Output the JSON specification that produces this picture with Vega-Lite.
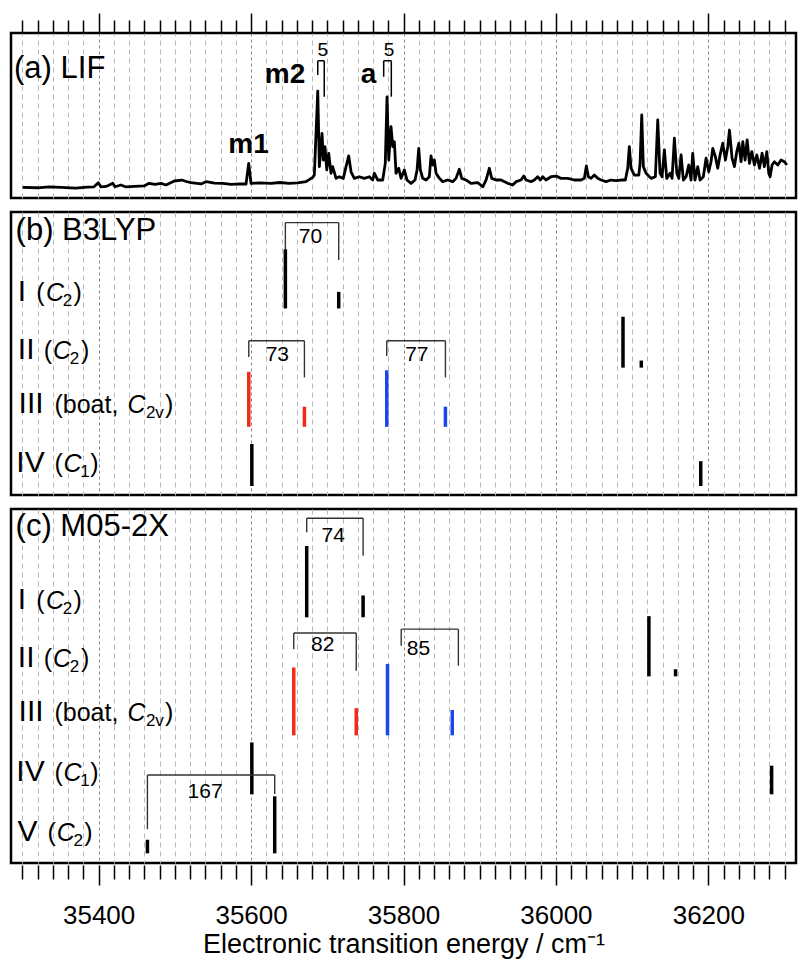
{
  "$schema": "https://vega.github.io/schema/vega-lite/v6.json",
  "padding": {"left": 9, "top": 11, "right": 0, "bottom": 0},
  "background": "white",
  "spacing": 10,
  "config": {
    "font": "Liberation Sans",
    "view": {"stroke": "black", "strokeWidth": 2.5},
    "axis": {"domain": false, "ticks": false, "labels": false, "grid": false, "tickColor": "black", "tickWidth": 1.5}
  },
  "datasets": {
    "lif": [
      {"wn": 35300.4, "s": 0.065}, {"wn": 35320, "s": 0.062}, {"wn": 35335, "s": 0.068}, {"wn": 35350.6, "s": 0.065}, {"wn": 35370, "s": 0.06}, {"wn": 35385, "s": 0.066}, {"wn": 35393.9, "s": 0.068},
      {"wn": 35399.6, "s": 0.093}, {"wn": 35403.1, "s": 0.067}, {"wn": 35410, "s": 0.07}, {"wn": 35418.5, "s": 0.089}, {"wn": 35421.5, "s": 0.068},
      {"wn": 35429.3, "s": 0.079}, {"wn": 35435.9, "s": 0.067}, {"wn": 35447, "s": 0.07}, {"wn": 35459.5, "s": 0.073}, {"wn": 35466.1, "s": 0.089},
      {"wn": 35474, "s": 0.083}, {"wn": 35481.8, "s": 0.089}, {"wn": 35488.4, "s": 0.079}, {"wn": 35499.3, "s": 0.103}, {"wn": 35509.0, "s": 0.109},
      {"wn": 35515, "s": 0.1}, {"wn": 35521.2, "s": 0.093}, {"wn": 35534.3, "s": 0.085}, {"wn": 35540.9, "s": 0.099}, {"wn": 35552, "s": 0.09},
      {"wn": 35562.8, "s": 0.089}, {"wn": 35574, "s": 0.082}, {"wn": 35584.6, "s": 0.085}, {"wn": 35593.4, "s": 0.085}, {"wn": 35596.9, "s": 0.21},
      {"wn": 35599.9, "s": 0.089}, {"wn": 35612, "s": 0.092}, {"wn": 35626.2, "s": 0.089}, {"wn": 35638, "s": 0.094}, {"wn": 35649.8, "s": 0.089},
      {"wn": 35661, "s": 0.092}, {"wn": 35672.1, "s": 0.099}, {"wn": 35680.9, "s": 0.125}, {"wn": 35683.0, "s": 0.139}, {"wn": 35687.5, "s": 0.648},
      {"wn": 35689.6, "s": 0.19}, {"wn": 35693.1, "s": 0.392}, {"wn": 35694.8, "s": 0.23}, {"wn": 35697.0, "s": 0.311}, {"wn": 35699.3, "s": 0.17},
      {"wn": 35701.9, "s": 0.271}, {"wn": 35704.9, "s": 0.15}, {"wn": 35707.1, "s": 0.19}, {"wn": 35711.5, "s": 0.119}, {"wn": 35715.8, "s": 0.129},
      {"wn": 35721.0, "s": 0.119}, {"wn": 35724.6, "s": 0.19}, {"wn": 35728.1, "s": 0.255}, {"wn": 35731.2, "s": 0.159}, {"wn": 35735.5, "s": 0.119},
      {"wn": 35742.0, "s": 0.129}, {"wn": 35748.6, "s": 0.119}, {"wn": 35755.2, "s": 0.129}, {"wn": 35759.6, "s": 0.109}, {"wn": 35761.7, "s": 0.15},
      {"wn": 35766.2, "s": 0.109}, {"wn": 35772.7, "s": 0.109}, {"wn": 35776.1, "s": 0.21}, {"wn": 35778.4, "s": 0.612}, {"wn": 35780.6, "s": 0.23},
      {"wn": 35783.6, "s": 0.432}, {"wn": 35785.9, "s": 0.311}, {"wn": 35788.0, "s": 0.341}, {"wn": 35790.2, "s": 0.15}, {"wn": 35793.7, "s": 0.18},
      {"wn": 35796.8, "s": 0.119}, {"wn": 35801.1, "s": 0.17}, {"wn": 35804.6, "s": 0.109}, {"wn": 35809.9, "s": 0.089}, {"wn": 35815.1, "s": 0.109},
      {"wn": 35817.8, "s": 0.17}, {"wn": 35820.0, "s": 0.301}, {"wn": 35822.1, "s": 0.17}, {"wn": 35825.2, "s": 0.119}, {"wn": 35829.6, "s": 0.109},
      {"wn": 35833.9, "s": 0.129}, {"wn": 35836.1, "s": 0.255}, {"wn": 35838.4, "s": 0.2}, {"wn": 35840.5, "s": 0.23}, {"wn": 35842.7, "s": 0.15},
      {"wn": 35847.1, "s": 0.119}, {"wn": 35851.5, "s": 0.099}, {"wn": 35858.0, "s": 0.109}, {"wn": 35864.6, "s": 0.099}, {"wn": 35868.9, "s": 0.119},
      {"wn": 35873.3, "s": 0.174}, {"wn": 35876.4, "s": 0.119}, {"wn": 35882.1, "s": 0.109}, {"wn": 35888.6, "s": 0.089}, {"wn": 35897.4, "s": 0.093},
      {"wn": 35904.0, "s": 0.068}, {"wn": 35908.3, "s": 0.109}, {"wn": 35912.6, "s": 0.18}, {"wn": 35915.8, "s": 0.119}, {"wn": 35921.4, "s": 0.109},
      {"wn": 35928.0, "s": 0.109}, {"wn": 35936.8, "s": 0.089}, {"wn": 35943.3, "s": 0.079}, {"wn": 35947.7, "s": 0.099}, {"wn": 35954.2, "s": 0.109},
      {"wn": 35957.8, "s": 0.133}, {"wn": 35960.8, "s": 0.109}, {"wn": 35967.3, "s": 0.099}, {"wn": 35971.7, "s": 0.109}, {"wn": 35976.1, "s": 0.129},
      {"wn": 35979.6, "s": 0.109}, {"wn": 35982.7, "s": 0.129}, {"wn": 35987.0, "s": 0.109}, {"wn": 35993.6, "s": 0.129}, {"wn": 36000.2, "s": 0.133},
      {"wn": 36006.7, "s": 0.119}, {"wn": 36015.5, "s": 0.119}, {"wn": 36024.2, "s": 0.109}, {"wn": 36033.0, "s": 0.109}, {"wn": 36037.3, "s": 0.119},
      {"wn": 36039.9, "s": 0.194}, {"wn": 36042.6, "s": 0.129}, {"wn": 36046.1, "s": 0.119}, {"wn": 36050.4, "s": 0.139}, {"wn": 36054.9, "s": 0.119},
      {"wn": 36059.2, "s": 0.109}, {"wn": 36065.8, "s": 0.099}, {"wn": 36072.3, "s": 0.109}, {"wn": 36078.9, "s": 0.105}, {"wn": 36085.4, "s": 0.109},
      {"wn": 36091.1, "s": 0.109}, {"wn": 36094.2, "s": 0.18}, {"wn": 36096.3, "s": 0.311}, {"wn": 36098.6, "s": 0.18}, {"wn": 36102.9, "s": 0.139},
      {"wn": 36108.7, "s": 0.139}, {"wn": 36110.4, "s": 0.21}, {"wn": 36112.6, "s": 0.503}, {"wn": 36114.7, "s": 0.19}, {"wn": 36118.3, "s": 0.15},
      {"wn": 36124.8, "s": 0.119}, {"wn": 36130.5, "s": 0.129}, {"wn": 36133.6, "s": 0.473}, {"wn": 36136.6, "s": 0.15}, {"wn": 36139.3, "s": 0.129},
      {"wn": 36142.3, "s": 0.291}, {"wn": 36145.4, "s": 0.119}, {"wn": 36149.8, "s": 0.15}, {"wn": 36152.4, "s": 0.119}, {"wn": 36155.4, "s": 0.362},
      {"wn": 36158.6, "s": 0.15}, {"wn": 36161.2, "s": 0.119}, {"wn": 36164.2, "s": 0.261}, {"wn": 36167.2, "s": 0.109}, {"wn": 36170.8, "s": 0.129},
      {"wn": 36174.3, "s": 0.2}, {"wn": 36177.3, "s": 0.109}, {"wn": 36179.5, "s": 0.271}, {"wn": 36182.5, "s": 0.109}, {"wn": 36186.1, "s": 0.19},
      {"wn": 36189.1, "s": 0.109}, {"wn": 36193.4, "s": 0.129}, {"wn": 36197.0, "s": 0.241}, {"wn": 36200.5, "s": 0.159}, {"wn": 36203.5, "s": 0.22},
      {"wn": 36205.8, "s": 0.301}, {"wn": 36209.2, "s": 0.25}, {"wn": 36212.3, "s": 0.18}, {"wn": 36215.4, "s": 0.261}, {"wn": 36218.9, "s": 0.332},
      {"wn": 36222.4, "s": 0.23}, {"wn": 36225.5, "s": 0.311}, {"wn": 36227.7, "s": 0.412}, {"wn": 36231.1, "s": 0.241}, {"wn": 36234.2, "s": 0.19},
      {"wn": 36237.3, "s": 0.281}, {"wn": 36240.0, "s": 0.332}, {"wn": 36243.0, "s": 0.22}, {"wn": 36245.2, "s": 0.341}, {"wn": 36248.2, "s": 0.23},
      {"wn": 36250.9, "s": 0.352}, {"wn": 36253.9, "s": 0.21}, {"wn": 36257.0, "s": 0.281}, {"wn": 36260.5, "s": 0.2}, {"wn": 36263.6, "s": 0.261},
      {"wn": 36267.1, "s": 0.18}, {"wn": 36270.5, "s": 0.271}, {"wn": 36273.5, "s": 0.19}, {"wn": 36276.7, "s": 0.281}, {"wn": 36279.3, "s": 0.15},
      {"wn": 36281.0, "s": 0.129}, {"wn": 36283.6, "s": 0.2}, {"wn": 36286.6, "s": 0.22}, {"wn": 36291.1, "s": 0.2}, {"wn": 36295.4, "s": 0.23},
      {"wn": 36299.8, "s": 0.22}, {"wn": 36303.0, "s": 0.2}
    ],
    "peaksA": [
      {"label": "m1", "x": 35596.6, "y": 0.271},
      {"label": "m2", "x": 35644.5, "y": 0.695},
      {"label": "a", "x": 35754, "y": 0.697}
    ],
    "headA": [{"t": "(a) LIF", "x": 35289, "y": 0.725}],
    "bracketsA": [
      {"x1": 35687.5, "x2": 35696, "top": 0.832, "left": 0.745, "right": 0.614, "label": "5", "lx": 35694, "ly": 0.897},
      {"x1": 35774, "x2": 35784, "top": 0.832, "left": 0.735, "right": 0.614, "label": "5", "lx": 35781, "ly": 0.897}
    ],
    "sticksB": [
      {"wn": 35645, "base": 3, "tip": 4.0, "set": "k"},
      {"wn": 35715, "base": 3, "tip": 3.28, "set": "k"},
      {"wn": 36088, "base": 2, "tip": 2.86, "set": "k"},
      {"wn": 36112, "base": 2, "tip": 2.12, "set": "k"},
      {"wn": 35597, "base": 1, "tip": 1.93, "set": "r"},
      {"wn": 35670, "base": 1, "tip": 1.34, "set": "r"},
      {"wn": 35778, "base": 1, "tip": 1.955, "set": "b"},
      {"wn": 35855, "base": 1, "tip": 1.34, "set": "b"},
      {"wn": 35601, "base": 0, "tip": 0.71, "set": "k"},
      {"wn": 36190, "base": 0, "tip": 0.42, "set": "k"}
    ],
    "bracketsB": [
      {"x1": 35645, "x2": 35715, "top": 4.45, "left": 4.0, "right": 3.82, "label": "70", "lx": 35678, "ly": 4.21},
      {"x1": 35597, "x2": 35670, "top": 2.454, "left": 2.18, "right": 1.835, "label": "73", "lx": 35634.5, "ly": 2.21},
      {"x1": 35778, "x2": 35855, "top": 2.454, "left": 2.196, "right": 1.835, "label": "77", "lx": 35817.5, "ly": 2.21}
    ],
    "piecesB": [
      {"k": "head", "t": "(b) B3LYP", "x": 35291, "y": 4.155},
      {"k": "num", "t": "I", "x": 35294, "y": 3.125},
      {"k": "txt", "t": "(", "x": 35318, "y": 3.125},
      {"k": "ital", "t": "C", "x": 35331, "y": 3.125},
      {"k": "sub", "t": "2", "x": 35353, "y": 3.125},
      {"k": "txt", "t": ")", "x": 35367, "y": 3.125},
      {"k": "num", "t": "II", "x": 35294, "y": 2.14},
      {"k": "txt", "t": "(", "x": 35328, "y": 2.14},
      {"k": "ital", "t": "C", "x": 35340, "y": 2.14},
      {"k": "sub", "t": "2", "x": 35362, "y": 2.14},
      {"k": "txt", "t": ")", "x": 35377, "y": 2.14},
      {"k": "num", "t": "III", "x": 35295, "y": 1.238},
      {"k": "txt", "t": "(boat,", "x": 35342, "y": 1.238},
      {"k": "ital", "t": "C", "x": 35438, "y": 1.238},
      {"k": "sub", "t": "2v", "x": 35462, "y": 1.238},
      {"k": "txt", "t": ")", "x": 35487, "y": 1.238},
      {"k": "num", "t": "IV", "x": 35292, "y": 0.242},
      {"k": "txt", "t": "(", "x": 35342, "y": 0.242},
      {"k": "ital", "t": "C", "x": 35354, "y": 0.242},
      {"k": "sub", "t": "1", "x": 35376, "y": 0.242},
      {"k": "txt", "t": ")", "x": 35389, "y": 0.242}
    ],
    "sticksC": [
      {"wn": 35673, "base": 4, "tip": 5.21, "set": "k"},
      {"wn": 35747, "base": 4, "tip": 4.37, "set": "k"},
      {"wn": 36122, "base": 3, "tip": 4.02, "set": "k"},
      {"wn": 36157, "base": 3, "tip": 3.12, "set": "k"},
      {"wn": 35656, "base": 2, "tip": 3.15, "set": "r"},
      {"wn": 35738, "base": 2, "tip": 2.46, "set": "r"},
      {"wn": 35779, "base": 2, "tip": 3.21, "set": "b"},
      {"wn": 35864, "base": 2, "tip": 2.43, "set": "b"},
      {"wn": 35601, "base": 1, "tip": 1.88, "set": "k"},
      {"wn": 36283, "base": 1, "tip": 1.485, "set": "k"},
      {"wn": 35464, "base": 0, "tip": 0.23, "set": "k"},
      {"wn": 35631, "base": 0, "tip": 0.966, "set": "k"}
    ],
    "bracketsC": [
      {"x1": 35673, "x2": 35747, "top": 5.678, "left": 5.44, "right": 5.044, "label": "74", "lx": 35707.7, "ly": 5.38},
      {"x1": 35656, "x2": 35738, "top": 3.734, "left": 3.46, "right": 3.095, "label": "82", "lx": 35694, "ly": 3.53},
      {"x1": 35797, "x2": 35872, "top": 3.8, "left": 3.52, "right": 3.18, "label": "85", "lx": 35819.6, "ly": 3.47},
      {"x1": 35464, "x2": 35631, "top": 1.327, "left": 0.41, "right": 1.005, "label": "167", "lx": 35539.6, "ly": 1.044}
    ],
    "piecesC": [
      {"k": "head", "t": "(c) M05-2X", "x": 35291, "y": 5.38},
      {"k": "num", "t": "I", "x": 35294, "y": 4.14},
      {"k": "txt", "t": "(", "x": 35318, "y": 4.14},
      {"k": "ital", "t": "C", "x": 35331, "y": 4.14},
      {"k": "sub", "t": "2", "x": 35353, "y": 4.14},
      {"k": "txt", "t": ")", "x": 35367, "y": 4.14},
      {"k": "num", "t": "II", "x": 35294, "y": 3.15},
      {"k": "txt", "t": "(", "x": 35328, "y": 3.15},
      {"k": "ital", "t": "C", "x": 35340, "y": 3.15},
      {"k": "sub", "t": "2", "x": 35362, "y": 3.15},
      {"k": "txt", "t": ")", "x": 35377, "y": 3.15},
      {"k": "num", "t": "III", "x": 35295, "y": 2.25},
      {"k": "txt", "t": "(boat,", "x": 35342, "y": 2.25},
      {"k": "ital", "t": "C", "x": 35438, "y": 2.25},
      {"k": "sub", "t": "2v", "x": 35462, "y": 2.25},
      {"k": "txt", "t": ")", "x": 35487, "y": 2.25},
      {"k": "num", "t": "IV", "x": 35292, "y": 1.23},
      {"k": "txt", "t": "(", "x": 35342, "y": 1.23},
      {"k": "ital", "t": "C", "x": 35354, "y": 1.23},
      {"k": "sub", "t": "1", "x": 35376, "y": 1.23},
      {"k": "txt", "t": ")", "x": 35389, "y": 1.23},
      {"k": "num", "t": "V", "x": 35293.5, "y": 0.214},
      {"k": "txt", "t": "(", "x": 35333, "y": 0.214},
      {"k": "ital", "t": "C", "x": 35345, "y": 0.214},
      {"k": "sub", "t": "2", "x": 35367, "y": 0.214},
      {"k": "txt", "t": ")", "x": 35381, "y": 0.214}
    ]
  },
  "vconcat": [
    {
      "width": 785,
      "height": 165,
      "resolve": {"axis": {"x": "independent"}},
      "layer": [
        {
          "data": {"name": "lif"},
          "mark": {"type": "line", "color": "black", "strokeWidth": 2.8, "strokeJoin": "round"},
          "encoding": {
            "x": {"field": "wn", "type": "quantitative", "scale": {"domain": [35285, 36315], "nice": false, "zero": false},
              "axis": {"orient": "top", "title": null, "ticks": true, "tickSize": 13, "grid": true, "gridColor": "#b8b8b8", "gridDash": [5, 4], "gridWidth": 1,
                "values": [35300,35320,35340,35360,35380,35420,35440,35460,35480,35500,35520,35540,35560,35580,35620,35640,35660,35680,35700,35720,35740,35760,35780,35820,35840,35860,35880,35900,35920,35940,35960,35980,36020,36040,36060,36080,36100,36120,36140,36160,36180,36220,36240,36260,36280,36300]}},
            "y": {"field": "s", "type": "quantitative", "scale": {"domain": [0, 1], "nice": false, "zero": false}, "axis": null}
          }
        },
        {
          "data": {"name": "bracketsA"},
          "mark": {"type": "rule", "color": "black", "strokeWidth": 1.5},
          "encoding": {
            "x": {"field": "x1", "type": "quantitative", "scale": {"domain": [35285, 36315], "nice": false, "zero": false},
              "axis": {"orient": "top", "title": null, "ticks": true, "tickSize": 20, "grid": true, "gridColor": "#8a8a8a", "gridDash": [3, 3], "gridWidth": 1, "values": [35400, 35600, 35800, 36000, 36200]}},
            "x2": {"field": "x2"},
            "y": {"field": "top", "type": "quantitative", "axis": null}
          }
        },
        {
          "data": {"name": "bracketsA"},
          "mark": {"type": "rule", "color": "black", "strokeWidth": 1.5},
          "encoding": {
            "x": {"field": "x1", "type": "quantitative", "axis": null},
            "y": {"field": "top", "type": "quantitative", "axis": null},
            "y2": {"field": "left"}
          }
        },
        {
          "data": {"name": "bracketsA"},
          "mark": {"type": "rule", "color": "black", "strokeWidth": 1.5},
          "encoding": {
            "x": {"field": "x2", "type": "quantitative", "axis": null},
            "y": {"field": "top", "type": "quantitative", "axis": null},
            "y2": {"field": "right"}
          }
        },
        {
          "data": {"name": "bracketsA"},
          "mark": {"type": "text", "fontSize": 19, "align": "center", "baseline": "middle", "color": "black"},
          "encoding": {
            "x": {"field": "lx", "type": "quantitative", "axis": null},
            "y": {"field": "ly", "type": "quantitative", "axis": null},
            "text": {"field": "label"}
          }
        },
        {
          "data": {"name": "peaksA"},
          "mark": {"type": "text", "fontSize": 28, "fontWeight": "bold", "align": "center", "baseline": "alphabetic", "color": "black"},
          "encoding": {
            "x": {"field": "x", "type": "quantitative", "axis": null},
            "y": {"field": "y", "type": "quantitative", "axis": null},
            "text": {"field": "label"}
          }
        },
        {
          "data": {"name": "headA"},
          "mark": {"type": "text", "fontSize": 31, "align": "left", "baseline": "alphabetic", "color": "black"},
          "encoding": {
            "x": {"field": "x", "type": "quantitative", "axis": null},
            "y": {"field": "y", "type": "quantitative", "axis": null},
            "text": {"field": "t"}
          }
        }
      ]
    },
    {
      "width": 785,
      "height": 283,
      "resolve": {"axis": {"x": "independent"}},
      "layer": [
        {
          "data": {"name": "sticksB"},
          "mark": {"type": "rule", "strokeWidth": 3.5},
          "encoding": {
            "x": {"field": "wn", "type": "quantitative", "scale": {"domain": [35285, 36315], "nice": false, "zero": false},
              "axis": {"orient": "bottom", "title": null, "grid": true, "gridColor": "#b8b8b8", "gridDash": [5, 4], "gridWidth": 1,
                "values": [35300,35320,35340,35360,35380,35420,35440,35460,35480,35500,35520,35540,35560,35580,35620,35640,35660,35680,35700,35720,35740,35760,35780,35820,35840,35860,35880,35900,35920,35940,35960,35980,36020,36040,36060,36080,36100,36120,36140,36160,36180,36220,36240,36260,36280,36300]}},
            "y": {"field": "base", "type": "quantitative", "scale": {"domain": [-0.152, 4.63], "nice": false, "zero": false},
              "axis": {"orient": "right", "title": null, "values": [0, 1, 2, 3, 4], "ticks": true, "tickSize": 14, "grid": true, "gridColor": "#999999", "gridDash": [3, 2], "gridWidth": 1}},
            "y2": {"field": "tip"},
            "color": {"field": "set", "type": "nominal", "scale": {"domain": ["k", "r", "b"], "range": ["#000000", "#f5281a", "#1a47e8"]}, "legend": null}
          }
        },
        {
          "data": {"name": "bracketsB"},
          "mark": {"type": "rule", "color": "#333333", "strokeWidth": 1.4},
          "encoding": {
            "x": {"field": "x1", "type": "quantitative", "scale": {"domain": [35285, 36315], "nice": false, "zero": false},
              "axis": {"orient": "bottom", "title": null, "grid": true, "gridColor": "#8a8a8a", "gridDash": [3, 3], "gridWidth": 1, "values": [35400, 35600, 35800, 36000, 36200]}},
            "x2": {"field": "x2"},
            "y": {"field": "top", "type": "quantitative", "axis": null}
          }
        },
        {
          "data": {"name": "bracketsB"},
          "mark": {"type": "rule", "color": "#333333", "strokeWidth": 1.4},
          "encoding": {
            "x": {"field": "x1", "type": "quantitative", "axis": null},
            "y": {"field": "top", "type": "quantitative", "axis": null},
            "y2": {"field": "left"}
          }
        },
        {
          "data": {"name": "bracketsB"},
          "mark": {"type": "rule", "color": "#333333", "strokeWidth": 1.4},
          "encoding": {
            "x": {"field": "x2", "type": "quantitative", "axis": null},
            "y": {"field": "top", "type": "quantitative", "axis": null},
            "y2": {"field": "right"}
          }
        },
        {
          "data": {"name": "bracketsB"},
          "mark": {"type": "text", "fontSize": 21, "align": "center", "baseline": "middle", "color": "black"},
          "encoding": {
            "x": {"field": "lx", "type": "quantitative", "axis": null},
            "y": {"field": "ly", "type": "quantitative", "axis": null},
            "text": {"field": "label"}
          }
        },
        {
          "data": {"name": "piecesB"},
          "transform": [{"filter": "datum.k === 'head'"}],
          "mark": {"type": "text", "fontSize": 31, "align": "left", "baseline": "alphabetic", "color": "black"},
          "encoding": {
            "x": {"field": "x", "type": "quantitative", "axis": null},
            "y": {"field": "y", "type": "quantitative", "axis": null},
            "text": {"field": "t"}
          }
        },
        {
          "data": {"name": "piecesB"},
          "transform": [{"filter": "datum.k === 'num'"}],
          "mark": {"type": "text", "fontSize": 30, "align": "left", "baseline": "alphabetic", "color": "black"},
          "encoding": {
            "x": {"field": "x", "type": "quantitative", "axis": null},
            "y": {"field": "y", "type": "quantitative", "axis": null},
            "text": {"field": "t"}
          }
        },
        {
          "data": {"name": "piecesB"},
          "transform": [{"filter": "datum.k === 'txt'"}],
          "mark": {"type": "text", "fontSize": 25, "align": "left", "baseline": "alphabetic", "color": "black"},
          "encoding": {
            "x": {"field": "x", "type": "quantitative", "axis": null},
            "y": {"field": "y", "type": "quantitative", "axis": null},
            "text": {"field": "t"}
          }
        },
        {
          "data": {"name": "piecesB"},
          "transform": [{"filter": "datum.k === 'ital'"}],
          "mark": {"type": "text", "fontSize": 25, "fontStyle": "italic", "align": "left", "baseline": "alphabetic", "color": "black"},
          "encoding": {
            "x": {"field": "x", "type": "quantitative", "axis": null},
            "y": {"field": "y", "type": "quantitative", "axis": null},
            "text": {"field": "t"}
          }
        },
        {
          "data": {"name": "piecesB"},
          "transform": [{"filter": "datum.k === 'sub'"}],
          "mark": {"type": "text", "fontSize": 17, "align": "left", "baseline": "alphabetic", "dy": 5, "color": "black"},
          "encoding": {
            "x": {"field": "x", "type": "quantitative", "axis": null},
            "y": {"field": "y", "type": "quantitative", "axis": null},
            "text": {"field": "t"}
          }
        }
      ]
    },
    {
      "width": 785,
      "height": 354,
      "resolve": {"axis": {"x": "independent"}},
      "layer": [
        {
          "data": {"name": "sticksC"},
          "mark": {"type": "rule", "strokeWidth": 3.5},
          "encoding": {
            "x": {"field": "wn", "type": "quantitative", "scale": {"domain": [35285, 36315], "nice": false, "zero": false},
              "axis": {"orient": "bottom", "title": null, "ticks": true, "tickSize": 14, "offset": 2, "grid": true, "gridColor": "#b8b8b8", "gridDash": [5, 4], "gridWidth": 1,
                "values": [35300,35320,35340,35360,35380,35420,35440,35460,35480,35500,35520,35540,35560,35580,35620,35640,35660,35680,35700,35720,35740,35760,35780,35820,35840,35860,35880,35900,35920,35940,35960,35980,36020,36040,36060,36080,36100,36120,36140,36160,36180,36220,36240,36260,36280,36300]}},
            "y": {"field": "base", "type": "quantitative", "scale": {"domain": [-0.164, 5.836], "nice": false, "zero": false},
              "axis": {"orient": "right", "title": null, "values": [0, 1, 2, 3, 4, 5], "ticks": true, "tickSize": 14, "grid": true, "gridColor": "#999999", "gridDash": [3, 2], "gridWidth": 1}},
            "y2": {"field": "tip"},
            "color": {"field": "set", "type": "nominal", "scale": {"domain": ["k", "r", "b"], "range": ["#000000", "#f5281a", "#1a47e8"]}, "legend": null}
          }
        },
        {
          "data": {"name": "bracketsC"},
          "mark": {"type": "rule", "color": "#333333", "strokeWidth": 1.4},
          "encoding": {
            "x": {"field": "x1", "type": "quantitative", "scale": {"domain": [35285, 36315], "nice": false, "zero": false},
              "axis": {"orient": "bottom", "title": "Electronic transition energy / cm⁻¹", "titleFontSize": 27, "titleFontWeight": "normal", "titleColor": "black", "titlePadding": 3,
                "ticks": true, "tickSize": 20, "offset": 2, "labels": true, "format": "d", "labelFontSize": 26, "labelColor": "black", "labelPadding": 17, "labelFlush": false,
                "grid": true, "gridColor": "#8a8a8a", "gridDash": [3, 3], "gridWidth": 1, "values": [35400, 35600, 35800, 36000, 36200]}},
            "x2": {"field": "x2"},
            "y": {"field": "top", "type": "quantitative", "axis": null}
          }
        },
        {
          "data": {"name": "bracketsC"},
          "mark": {"type": "rule", "color": "#333333", "strokeWidth": 1.4},
          "encoding": {
            "x": {"field": "x1", "type": "quantitative", "axis": null},
            "y": {"field": "top", "type": "quantitative", "axis": null},
            "y2": {"field": "left"}
          }
        },
        {
          "data": {"name": "bracketsC"},
          "mark": {"type": "rule", "color": "#333333", "strokeWidth": 1.4},
          "encoding": {
            "x": {"field": "x2", "type": "quantitative", "axis": null},
            "y": {"field": "top", "type": "quantitative", "axis": null},
            "y2": {"field": "right"}
          }
        },
        {
          "data": {"name": "bracketsC"},
          "mark": {"type": "text", "fontSize": 21, "align": "center", "baseline": "middle", "color": "black"},
          "encoding": {
            "x": {"field": "lx", "type": "quantitative", "axis": null},
            "y": {"field": "ly", "type": "quantitative", "axis": null},
            "text": {"field": "label"}
          }
        },
        {
          "data": {"name": "piecesC"},
          "transform": [{"filter": "datum.k === 'head'"}],
          "mark": {"type": "text", "fontSize": 31, "align": "left", "baseline": "alphabetic", "color": "black"},
          "encoding": {
            "x": {"field": "x", "type": "quantitative", "axis": null},
            "y": {"field": "y", "type": "quantitative", "axis": null},
            "text": {"field": "t"}
          }
        },
        {
          "data": {"name": "piecesC"},
          "transform": [{"filter": "datum.k === 'num'"}],
          "mark": {"type": "text", "fontSize": 30, "align": "left", "baseline": "alphabetic", "color": "black"},
          "encoding": {
            "x": {"field": "x", "type": "quantitative", "axis": null},
            "y": {"field": "y", "type": "quantitative", "axis": null},
            "text": {"field": "t"}
          }
        },
        {
          "data": {"name": "piecesC"},
          "transform": [{"filter": "datum.k === 'txt'"}],
          "mark": {"type": "text", "fontSize": 25, "align": "left", "baseline": "alphabetic", "color": "black"},
          "encoding": {
            "x": {"field": "x", "type": "quantitative", "axis": null},
            "y": {"field": "y", "type": "quantitative", "axis": null},
            "text": {"field": "t"}
          }
        },
        {
          "data": {"name": "piecesC"},
          "transform": [{"filter": "datum.k === 'ital'"}],
          "mark": {"type": "text", "fontSize": 25, "fontStyle": "italic", "align": "left", "baseline": "alphabetic", "color": "black"},
          "encoding": {
            "x": {"field": "x", "type": "quantitative", "axis": null},
            "y": {"field": "y", "type": "quantitative", "axis": null},
            "text": {"field": "t"}
          }
        },
        {
          "data": {"name": "piecesC"},
          "transform": [{"filter": "datum.k === 'sub'"}],
          "mark": {"type": "text", "fontSize": 17, "align": "left", "baseline": "alphabetic", "dy": 5, "color": "black"},
          "encoding": {
            "x": {"field": "x", "type": "quantitative", "axis": null},
            "y": {"field": "y", "type": "quantitative", "axis": null},
            "text": {"field": "t"}
          }
        }
      ]
    }
  ]
}
